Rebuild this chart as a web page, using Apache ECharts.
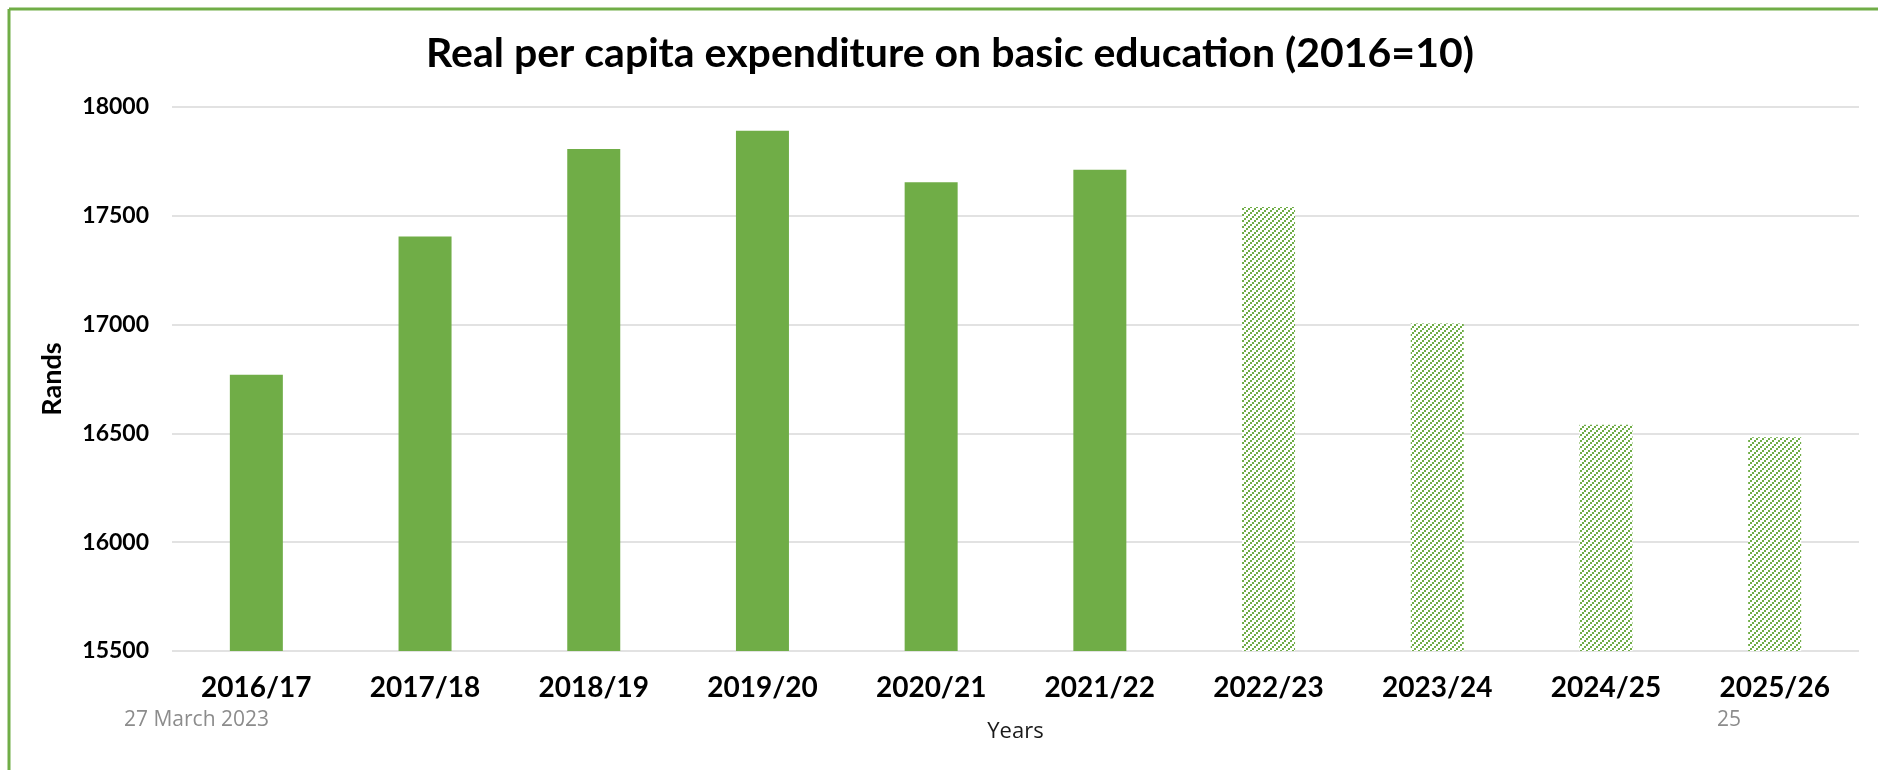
<!DOCTYPE html>
<html>
<head>
<meta charset="utf-8">
<script src="https://cdn.jsdelivr.net/npm/echarts@6/dist/echarts.min.js"></script>
<style>
  html, body { margin: 0; padding: 0; background: #ffffff; }
  #chart { width: 1878px; height: 770px; }
</style>
</head>
<body>
<div id="chart"></div>
<script>
// Financial years and real per capita spending (Rands)
const years = ['2016/17', '2017/18', '2018/19', '2019/20', '2020/21', '2021/22', '2022/23', '2023/24', '2024/25', '2025/26'];
const spending = [16770, 17405, 17807, 17891, 17654, 17712, 17540, 17005, 16540, 16482];
// First year drawn with a hatched (projected) fill
const firstProjected = '2022/23';
const yTicks = { min: 15500, max: 18000, step: 500 };

const GREEN = '#70AD47';

// Small repeating tile of dotted upward diagonals for projected years
function hatchTile() {
  const c = document.createElement('canvas');
  c.width = 6; c.height = 6;
  const g = c.getContext('2d');
  g.fillStyle = '#ffffff';
  g.fillRect(0, 0, 6, 6);
  g.fillStyle = GREEN;
  g.fillRect(0, 4, 2, 2);
  g.fillRect(2, 2, 2, 2);
  g.fillRect(4, 0, 2, 2);
  return c;
}
const hatch = { image: hatchTile(), repeat: 'repeat' };

const projIdx = years.indexOf(firstProjected);
const barData = spending.map((v, i) => ({
  value: v,
  itemStyle: i >= projIdx ? { color: hatch } : { color: GREEN }
}));

const chart = echarts.init(document.getElementById('chart'), null, { renderer: 'canvas' });
chart.setOption({
  animation: false,
  backgroundColor: '#ffffff',
  textStyle: { fontFamily: 'Lato' },
  graphic: [
    // green frame along the top and left edges
    { type: 'line', shape: { x1: 9, y1: 9, x2: 1878, y2: 9 }, style: { stroke: GREEN, lineWidth: 3 } },
    { type: 'line', shape: { x1: 9, y1: 9, x2: 9, y2: 770 }, style: { stroke: GREEN, lineWidth: 3 } },
    {
      type: 'text', x: 950, y: 54,
      style: {
        text: 'Real per capita expenditure on basic education (2016=10)',
        fontFamily: 'Lato', fontWeight: 'bold', fontSize: 41, fill: '#000000',
        align: 'center', verticalAlign: 'middle'
      }
    },
    { type: 'text', left: 124, top: 710, style: { text: '27 March 2023', fontFamily: 'Open Sans', fontSize: 21, fill: '#8c8c8c' } },
    { type: 'text', left: 1717, top: 710, style: { text: '25', fontFamily: 'Open Sans', fontSize: 21, fill: '#8c8c8c' } }
  ],
  grid: { left: 172, right: 19, top: 107, bottom: 119, containLabel: false },
  xAxis: {
    type: 'category',
    data: years,
    name: 'Years',
    nameLocation: 'middle',
    nameGap: 70,
    nameTextStyle: { fontFamily: 'Open Sans', fontSize: 22, color: '#1a1a1a' },
    axisLine: { show: false },
    axisTick: { show: false },
    axisLabel: {
      margin: 23,
      fontFamily: 'Lato', fontWeight: 'bold', fontSize: 28, color: '#000000'
    }
  },
  yAxis: {
    type: 'value',
    min: yTicks.min,
    max: yTicks.max,
    interval: yTicks.step,
    name: 'Rands',
    nameLocation: 'middle',
    nameGap: 106,
    nameRotate: 90,
    nameTextStyle: { fontFamily: 'Lato', fontWeight: 'bold', fontSize: 27, color: '#000000' },
    axisLine: { show: false },
    axisTick: { show: false },
    axisLabel: {
      margin: 23,
      fontFamily: 'Lato', fontWeight: 'bold', fontSize: 23, color: '#000000',
      formatter: v => String(v)
    },
    splitLine: { lineStyle: { color: '#d9d9d9', width: 1.5 } }
  },
  series: [{
    type: 'bar',
    data: barData,
    barWidth: 53
  }]
});
</script>
</body>
</html>
